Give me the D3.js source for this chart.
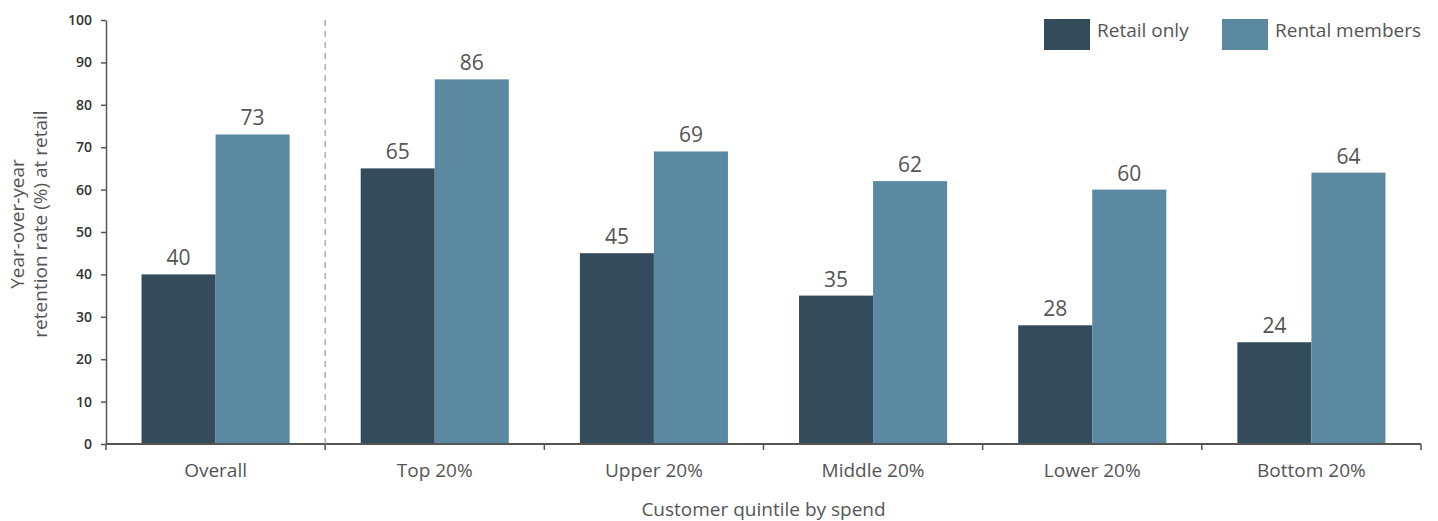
<!DOCTYPE html>
<html>
<head>
<meta charset="utf-8">
<script src="https://cdn.jsdelivr.net/npm/d3@7"></script>
<style>
  body { margin: 0; background: #fff; }
  svg text { font-family: "Open Sans", "Noto Sans", sans-serif; }
</style>
</head>
<body>
<div id="chart"></div>
<script>
// data
var categories = ["Overall", "Top 20%", "Upper 20%", "Middle 20%", "Lower 20%", "Bottom 20%"];
var seriesNames = ["Retail only", "Rental members"];
var retailOnly = [40, 65, 45, 35, 28, 24];
var rentalMembers = [73, 86, 69, 62, 60, 64];
var yTicks = [0, 10, 20, 30, 40, 50, 60, 70, 80, 90, 100];
var colors = ["#344b5b", "#5b89a2"];

var W = 1438, H = 521;
var margin = { top: 20, right: 17, bottom: 77, left: 106 };
var width = W - margin.left - margin.right,
    height = H - margin.top - margin.bottom;

var svg = d3.select("#chart").append("svg")
  .attr("width", W).attr("height", H);
var g = svg.append("g")
  .attr("transform", "translate(" + margin.left + "," + margin.top + ")");

var x = d3.scaleBand().domain(categories).range([0, width]).padding(0);
var xs = d3.scaleBand().domain(seriesNames).range([0, x.bandwidth()])
  .paddingInner(0).paddingOuter(0.48);
var y = d3.scaleLinear().domain([0, 100]).range([height, 0]);

// y axis
var gY = g.append("g")
  .call(d3.axisLeft(y).tickValues(yTicks).tickSize(5).tickSizeOuter(0));
gY.select(".domain").attr("stroke", "#555").attr("stroke-width", 1.5);
gY.selectAll(".tick line").attr("stroke", "#555").attr("stroke-width", 1.5);
gY.selectAll(".tick text").attr("fill", "#333").style("font-size", "14px")
  .style("font-weight", "600").attr("x", -14);

// bars
var rows = categories.map(function(c, i) {
  return { cat: c, vals: [retailOnly[i], rentalMembers[i]] };
});
var groups = g.selectAll(".grp").data(rows).enter().append("g")
  .attr("transform", function(d) { return "translate(" + x(d.cat) + ",0)"; });

groups.selectAll("rect").data(function(d) {
  return d.vals.map(function(v, j) { return { s: seriesNames[j], v: v, j: j }; });
}).enter().append("rect")
  .attr("x", function(d) { return xs(d.s); })
  .attr("width", xs.bandwidth())
  .attr("y", function(d) { return y(d.v); })
  .attr("height", function(d) { return height - y(d.v); })
  .attr("fill", function(d) { return colors[d.j]; });

groups.selectAll(".val").data(function(d) {
  return d.vals.map(function(v, j) { return { s: seriesNames[j], v: v }; });
}).enter().append("text")
  .attr("class", "val")
  .attr("x", function(d) { return xs(d.s) + xs.bandwidth() / 2; })
  .attr("y", function(d) { return y(d.v) - 9; })
  .attr("text-anchor", "middle")
  .attr("fill", "#555")
  .style("font-size", "21px")
  .text(function(d) { return d.v; });

// x axis: ticks at category boundaries
var bounds = categories.map(function(c) { return x(c); }).concat([width]);
var gX = g.append("g").attr("transform", "translate(0," + height + ")");
gX.append("line").attr("x1", 0).attr("x2", width)
  .attr("stroke", "#555").attr("stroke-width", 2);
gX.selectAll(".bt").data(bounds).enter().append("line")
  .attr("x1", function(d) { return d; }).attr("x2", function(d) { return d; })
  .attr("y1", 0).attr("y2", 6)
  .attr("stroke", "#555").attr("stroke-width", 1.5);
gX.selectAll(".cl").data(categories).enter().append("text")
  .attr("x", function(d) { return x(d) + x.bandwidth() / 2; })
  .attr("y", 33)
  .attr("text-anchor", "middle")
  .attr("fill", "#555")
  .style("font-size", "19px")
  .text(function(d) { return d; });

// dashed separator after "Overall"
g.append("line")
  .attr("x1", x(categories[1])).attr("x2", x(categories[1]))
  .attr("y1", 0).attr("y2", height)
  .attr("stroke", "#999").attr("stroke-width", 1.2)
  .attr("stroke-dasharray", "6,5");

// axis titles
g.append("text")
  .attr("x", width / 2).attr("y", height + 72)
  .attr("text-anchor", "middle").attr("fill", "#555")
  .style("font-size", "19px")
  .text("Customer quintile by spend");

var yl = svg.append("text")
  .attr("transform", "translate(0," + (margin.top + height / 2 - 8) + ") rotate(-90)")
  .attr("text-anchor", "middle").attr("fill", "#555")
  .style("font-size", "19px");
yl.append("tspan").attr("x", 0).attr("y", 24).text("Year-over-year");
yl.append("tspan").attr("x", 0).attr("y", 47).text("retention rate (%) at retail");

// legend
var legX = [1044, 1222];
var leg = svg.selectAll(".leg").data(seriesNames).enter().append("g")
  .attr("transform", function(d, i) { return "translate(" + legX[i] + ",19)"; });
leg.append("rect").attr("width", 46).attr("height", 31)
  .attr("fill", function(d, i) { return colors[i]; });
leg.append("text").attr("x", 53).attr("y", 18)
  .attr("fill", "#555").style("font-size", "19px")
  .text(function(d) { return d; });
</script>
</body>
</html>
